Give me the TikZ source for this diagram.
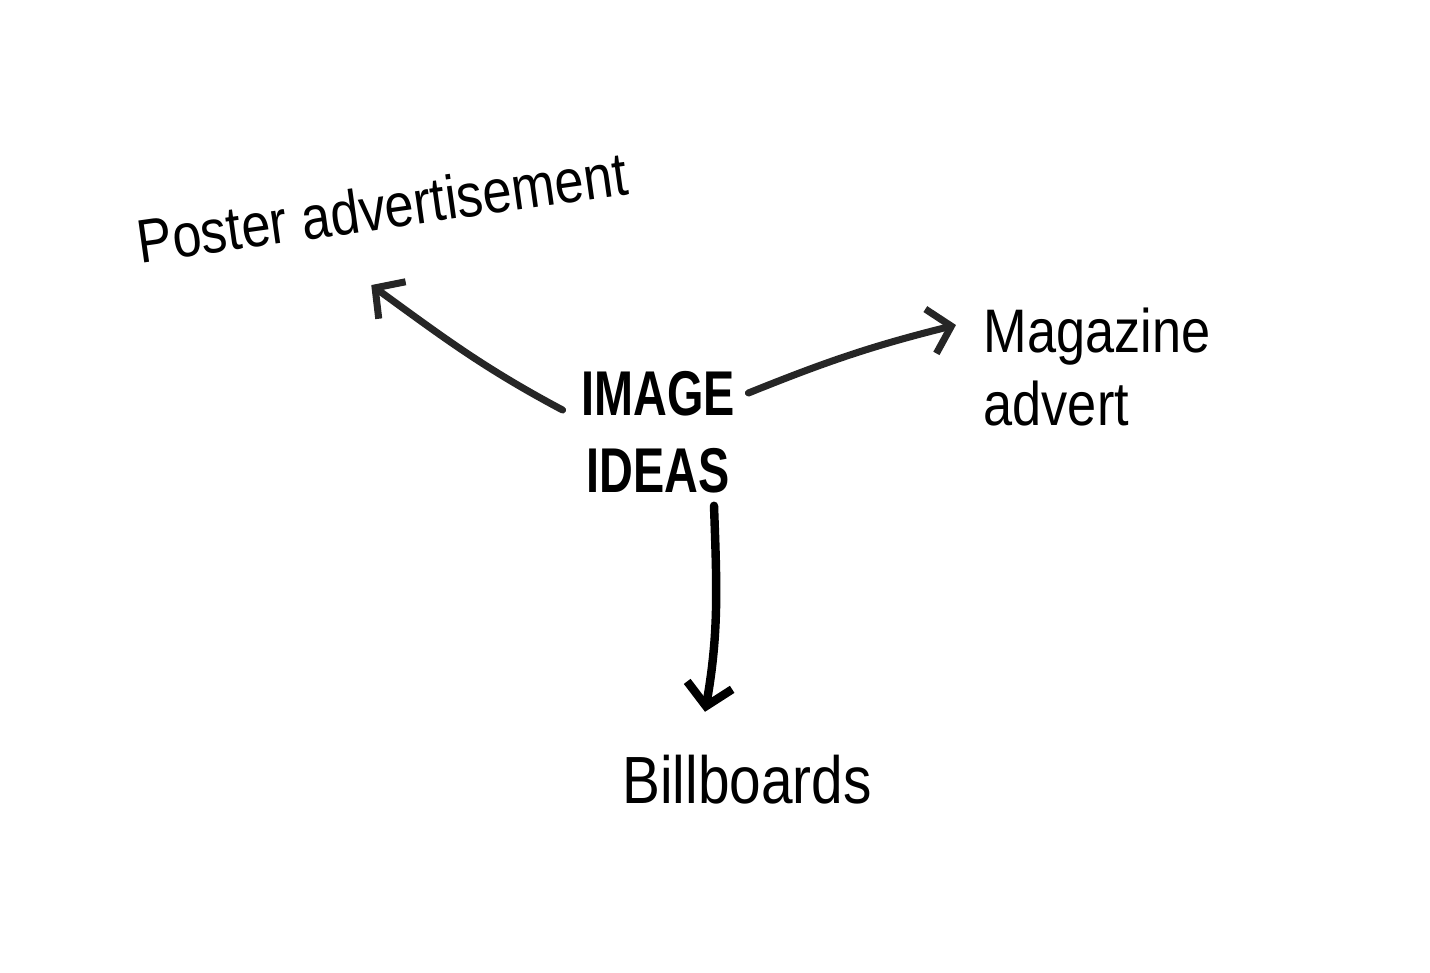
\documentclass[tikz,border=0pt]{standalone}
\usepackage{fontspec}
\newfontfamily\handfont[FakeStretch=0.85]{Liberation Sans}
\newfontfamily\capsfont[FakeStretch=0.74]{Liberation Sans}
\usetikzlibrary{arrows.meta,positioning,calc}

\begin{document}
\begin{tikzpicture}[
    idea/.style={align=center, inner sep=0pt, font=\capsfont\bfseries\fontsize{18}{22}\selectfont},
    branch/.style={align=left, inner sep=0pt, font=\handfont\fontsize{17.5}{20.5}\selectfont},
    arr/.style={-{Straight Barb[length=6pt, width=13pt]}, line width=2pt, line cap=round, line join=round, black!85}
]
\useasboundingbox (0,0) rectangle (14.30,9.72);
\node[idea] (idea) at (6.58,5.40) {IMAGE\\IDEAS};
\node[branch, rotate=8] (poster) at (3.82,7.65) {Poster advertisement};
\node[branch] (magazine) at (10.97,6.05) {Magazine\\advert};
\node[branch, font=\handfont\fontsize{19}{20}\selectfont] (billboards) at (7.47,1.92) {Billboards};

\draw[arr] ($(idea.west)+(-0.18,0.22)$) to[out=152, in=-36] ($(poster.south)+(-0.14,-0.55)$);
\draw[arr] ($(idea.east)+(0.13,0.39)$) to[out=22, in=194] ($(magazine.west)+(-0.27,0.42)$);
\draw[arr, line width=2.4pt, black] ($(idea.south)+(0.56,-0.12)$) to[out=-88, in=80] ($(billboards.north)+(-0.42,0.43)$);
\end{tikzpicture}
\end{document}
